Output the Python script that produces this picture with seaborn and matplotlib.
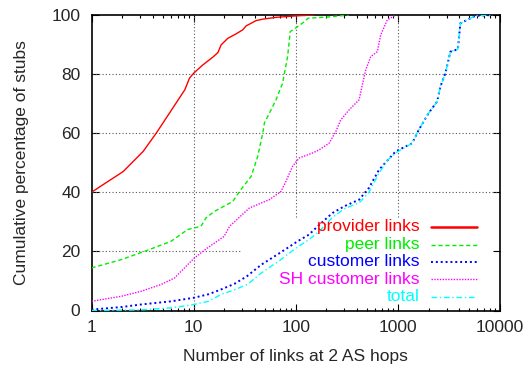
import matplotlib
matplotlib.use("Agg")
import matplotlib.pyplot as plt
import seaborn as sns
import pandas as pd

# Cumulative distributions (percent of stubs) vs. number of links at 2 AS hops
provider_x = [1, 1.3, 2.04, 3.2, 4.3, 5.8, 8.2, 9.1, 10, 12.3, 15.5, 17.3, 18.6,
              21.6, 26, 30.3, 32.6, 40.9, 47.6, 64, 100, 150]
provider_y = [40, 42.6, 47, 53.8, 60, 66.8, 74.7, 78.6, 80.3, 83.1, 85.8, 87.3, 89.9,
              92.1, 93.6, 95, 96.3, 98.1, 98.6, 99.2, 99.7, 100]

peer_x = [1, 1.95, 3.3, 6.0, 8.74, 11.8, 13.2, 15.9, 24.2, 28.1, 36.6, 42.4, 47.5,
          49.3, 64.1, 74.3, 83.2, 88.3, 99, 121, 132, 220, 330]
peer_y = [14.4, 17.2, 20, 23.4, 27.4, 28.5, 31.3, 33.5, 36.9, 40.3, 45.4, 52.1, 60,
          63.4, 71.3, 76.9, 85.9, 94.4, 95.5, 97.7, 98.9, 99.4, 100]

customer_x = [1, 2, 3, 6, 10, 14, 18.5, 25, 33, 46, 70, 104, 135, 170, 229, 300,
              417, 521, 653, 949, 1380, 1600, 2000, 2420, 2610, 2920, 3270, 3870,
              4090, 5730, 8300]
customer_y = [0.3, 1.2, 2, 3.1, 4.3, 5.5, 7.1, 9, 11.5, 15.5, 19.5, 23.4, 25.7, 29,
              33, 35.3, 37.5, 41.5, 47.6, 53.8, 56.6, 61.1, 66.8, 70.7, 75.8, 80.3,
              87.6, 88.4, 97.2, 99.7, 100]

sh_x = [1, 1.95, 3.06, 4.8, 6.5, 8.74, 10.2, 13.7, 19.9, 22.5, 35.2, 55.1, 71.7,
        80.2, 93, 108, 146, 170, 212, 247, 276, 333, 417, 449, 484, 542, 629, 678,
        787, 949]
sh_y = [3.1, 4.8, 6.5, 8.8, 11, 15.5, 17.8, 21.2, 25.1, 28.5, 34.7, 37.5, 40.3,
        43.7, 48.8, 51.6, 53.3, 54.4, 56.6, 60.6, 64.5, 67.9, 71.3, 76.4, 81.4,
        85.9, 87.6, 93.2, 98.3, 100]

total_x = [1, 3, 6, 10, 14, 18.5, 25, 33.6, 46, 70, 104, 135, 170, 229, 300, 417,
           521, 653, 800, 949, 1380, 1600, 2000, 2420, 2610, 2920, 3270, 3870,
           4090, 5730, 8300]
total_y = [0, 0.2, 0.9, 2, 3.1, 5.4, 7, 8.8, 12.7, 17, 21.5, 24, 26.8, 31.5, 34.5,
           36.4, 40, 46.5, 51, 53.3, 56.6, 61.1, 66.8, 70.7, 75.8, 80.3, 87.6,
           88.4, 97.2, 99.7, 100]

labels = ["provider links", "peer links", "customer links", "SH customer links", "total"]
colors = ["#ff0000", "#00ee00", "#0000ff", "#ff00ff", "#00ffff"]

sns.set_style("ticks", {"xtick.direction": "in", "ytick.direction": "in"})
plt.rcParams["font.family"] = ["Liberation Sans", "DejaVu Sans"]
plt.rcParams["font.size"] = 12.5

fig = plt.figure(figsize=(5.3, 3.7), dpi=100)
ax = fig.add_axes([91.5 / 530, (370 - 310.5) / 370, (500 - 91.5) / 530, (310.5 - 15) / 370])

series = [
    (provider_x, provider_y, dict(linestyle="-", linewidth=1.0)),
    (peer_x, peer_y, dict(linestyle=(0, (3, 2)), linewidth=1.0)),
    (customer_x, customer_y, dict(linestyle=(0, (1, 1.5)), linewidth=1.4)),
    (sh_x, sh_y, dict(linestyle=(0, (1, 1)), linewidth=1.0)),
    (total_x, total_y, dict(linestyle=(0, (4, 2, 1, 2)), linewidth=1.0)),
]

ax.set_xscale("log")
ax.set_xlim(1, 10000)
ax.set_ylim(0, 100)

# dotted grid, kept clear of the key area in the lower right
grid_kw = dict(color="#555555", linewidth=0.8, linestyle=(0, (1, 2)), zorder=1)
key_x, key_y = 30, 31.5
for yv in [20, 40, 60, 80]:
    ax.hlines(yv, 1, key_x if yv < key_y else 10000, **grid_kw)
for xv in [10, 100, 1000]:
    ax.vlines(xv, 0 if xv < key_x else key_y, 100, **grid_kw)

for (xs, ys, style), lab, col in zip(series, labels, colors):
    df = pd.DataFrame({"x": xs, "y": ys})
    sns.lineplot(data=df, x="x", y="y", ax=ax, color=col, sort=False,
                 estimator=None, zorder=3, **style)

# key: right-aligned coloured labels with line samples to their right
row_y = [0.283, 0.223, 0.1645, 0.105, 0.046]
for (xs, ys, style), lab, col, ry in zip(series, labels, colors, row_y):
    ax.text(0.803, ry, lab, color=col, ha="right", va="center",
            transform=ax.transAxes, fontsize=12.5)
    sample = dict(style)
    if lab == "provider links":
        sample["linewidth"] = 1.8
    ax.plot([0.830, 0.943], [ry, ry], color=col, transform=ax.transAxes, **sample)

ax.set_xticks([1, 10, 100, 1000, 10000])
ax.set_xticklabels(["1", "10", "100", "1000", "10000"])
ax.set_yticks([0, 20, 40, 60, 80, 100])
ax.tick_params(which="both", top=True, right=True, direction="in", color="black")
ax.tick_params(which="major", length=5, width=0.8)
ax.tick_params(which="minor", length=2.5, width=0.8)
ax.tick_params(axis="y", pad=8)
ax.tick_params(axis="x", pad=7)
for s in ax.spines.values():
    s.set_color("black")
    s.set_linewidth(1.2)

ax.set_xlabel("Number of links at 2 AS hops", labelpad=10)
ax.set_ylabel("Cumulative percentage of stubs", labelpad=16)

fig.savefig("out.png", dpi=100)
